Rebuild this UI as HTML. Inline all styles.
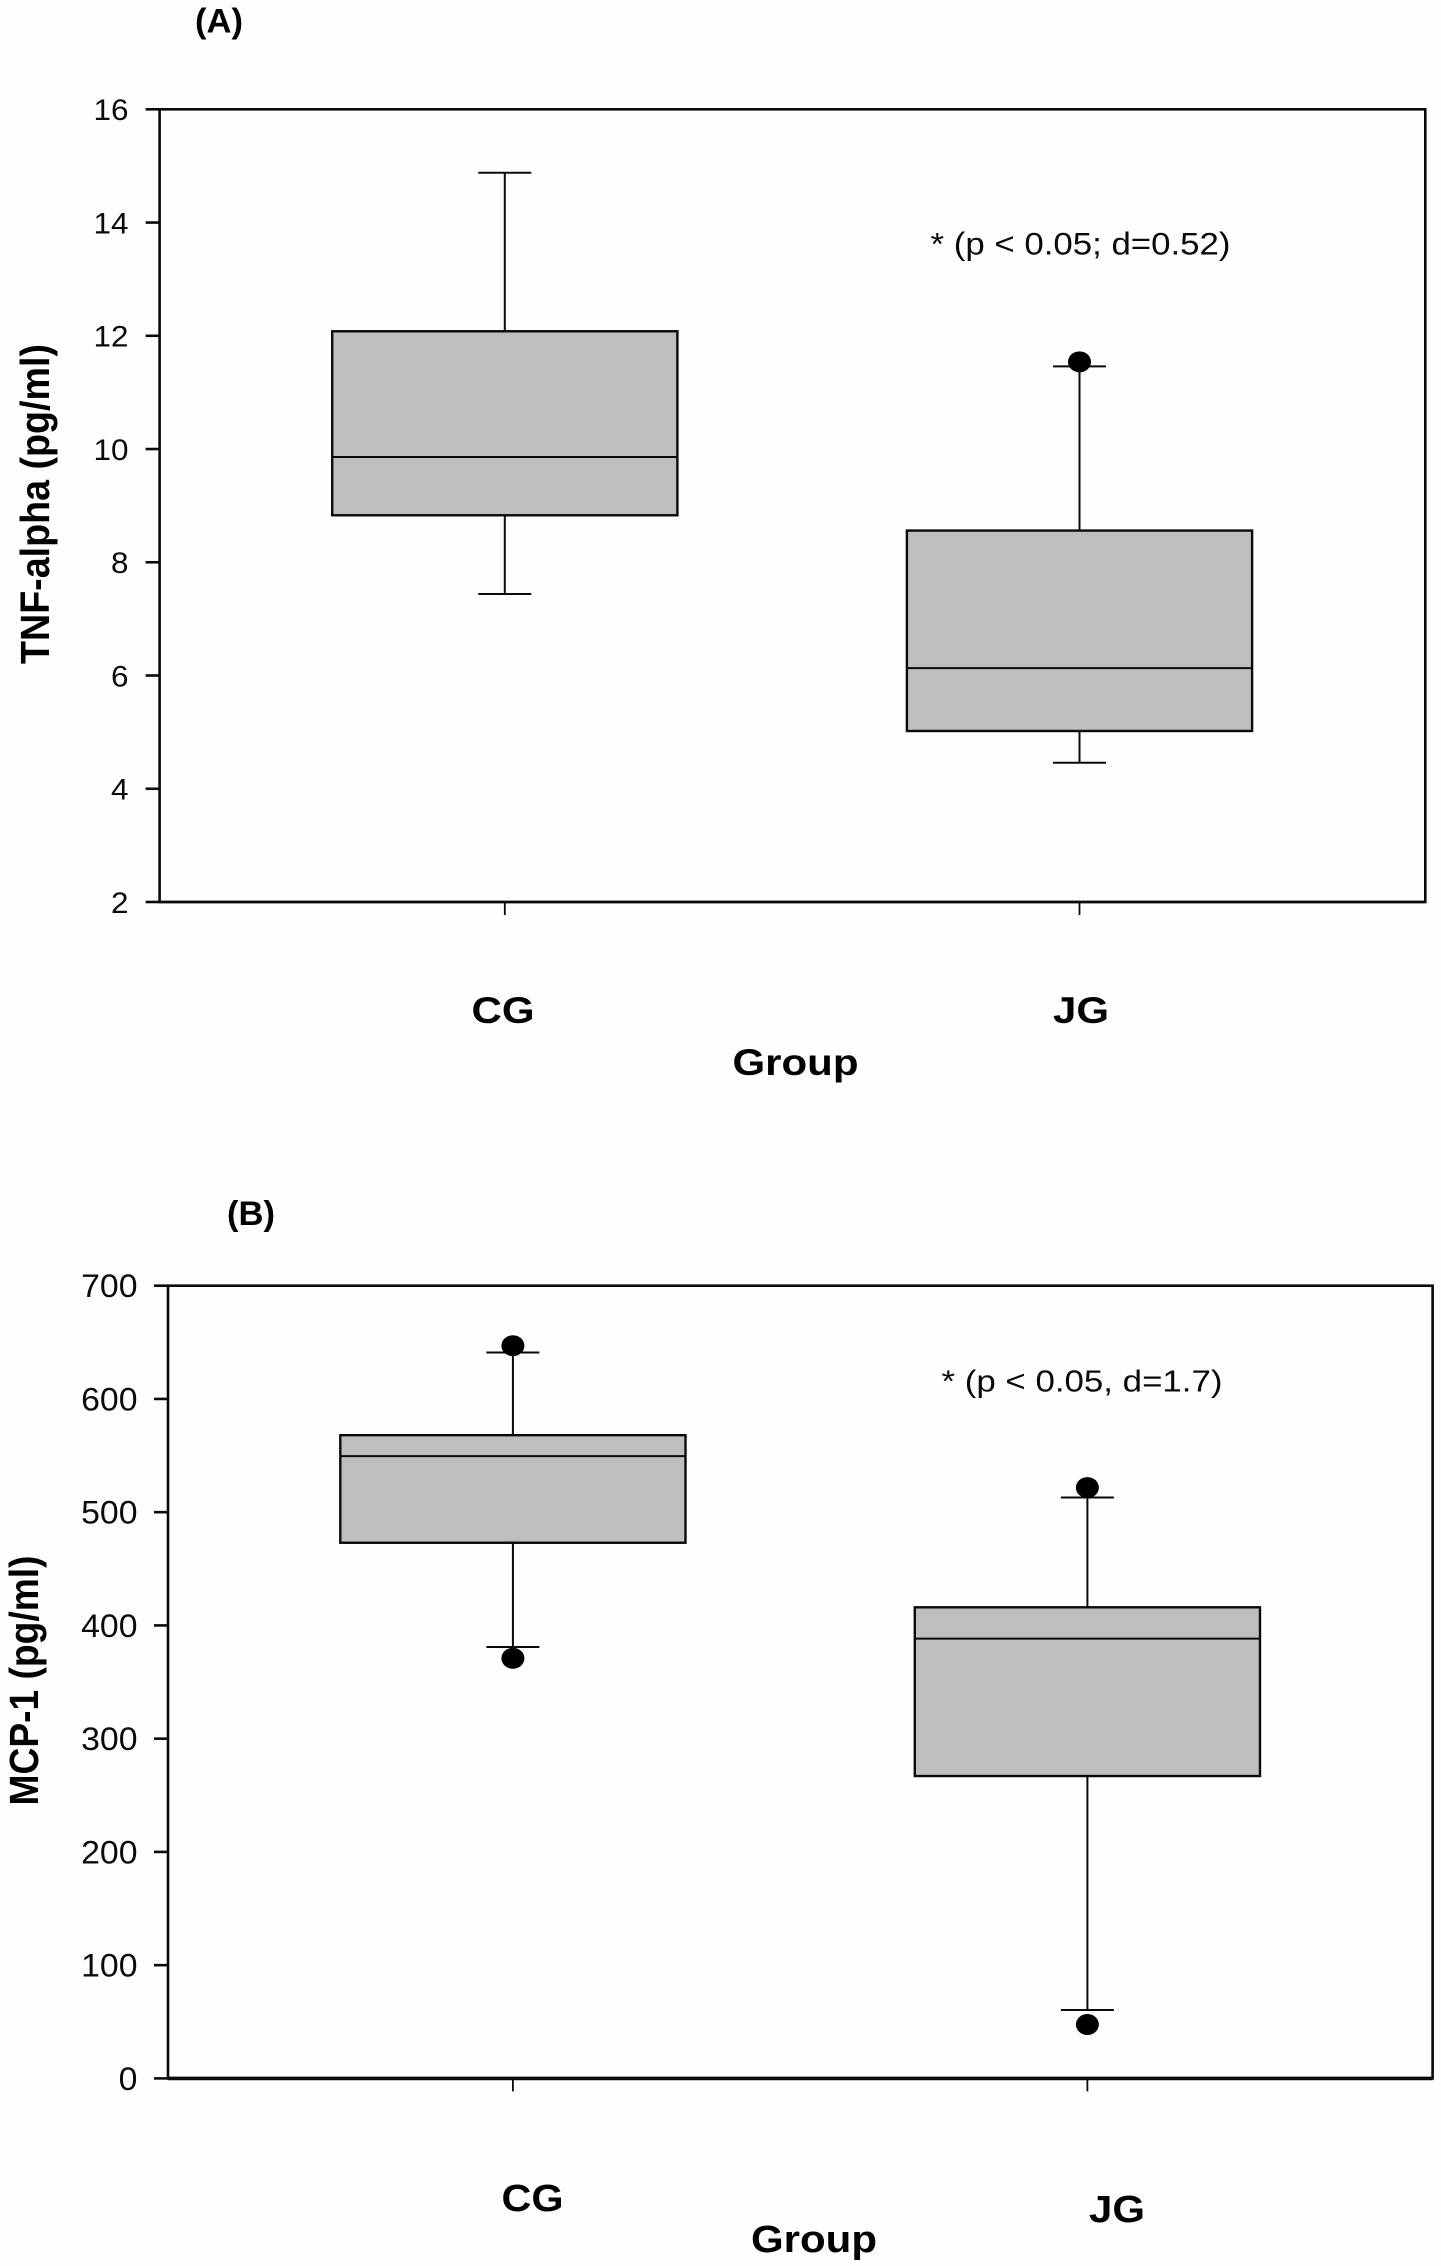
<!DOCTYPE html>
<html lang="en">
<head>
<meta charset="utf-8">
<title>TNF-alpha and MCP-1 box plots</title>
<style>
html,body{margin:0;padding:0;background:#fefefe;}
svg{display:block;}
text{font-family:"Liberation Sans",Arial,sans-serif;fill:#0a0a0a;}
.b{font-weight:bold;fill:#000;}
</style>
</head>
<body>
<svg id="chart" xmlns="http://www.w3.org/2000/svg" width="1441" height="2266" viewBox="0 0 1441 2266">
  <rect x="0" y="0" width="1441" height="2266" fill="#fefefe"/>

  <g id="panelA"></g>
  <g id="panelB"></g>

  <text class="b" x="195" y="32.5" font-size="34" textLength="48" lengthAdjust="spacingAndGlyphs">(A)</text>
  <text x="930.5" y="254.5" font-size="31.5" textLength="300" lengthAdjust="spacingAndGlyphs">* (p &lt; 0.05; d=0.52)</text>
  <text class="b" transform="translate(49,664) rotate(-90)" font-size="41" textLength="320" lengthAdjust="spacingAndGlyphs">TNF-alpha (pg/ml)</text>
  <text class="b" x="732.5" y="1075" font-size="37" textLength="126" lengthAdjust="spacingAndGlyphs">Group</text>

  <text class="b" x="227" y="1225" font-size="34" textLength="48" lengthAdjust="spacingAndGlyphs">(B)</text>
  <text x="941.5" y="1391.5" font-size="30.5" textLength="281" lengthAdjust="spacingAndGlyphs">* (p &lt; 0.05, d=1.7)</text>
  <text class="b" transform="translate(38,1805.5) rotate(-90)" font-size="41" textLength="250" lengthAdjust="spacingAndGlyphs">MCP-1 (pg/ml)</text>
  <text class="b" x="751" y="2252" font-size="38" textLength="126" lengthAdjust="spacingAndGlyphs">Group</text>
</svg>

<script>
// Panel A: TNF-alpha
const categoriesA = ["CG", "JG"];
const yTicksA = [2, 4, 6, 8, 10, 12, 14, 16];
const whiskerLowA = [7.44, 4.46];
const q1A = [8.83, 5.02];
const medianA = [9.86, 6.13];
const q3A = [12.08, 8.56];
const whiskerHighA = [14.88, 11.46];
const outliersA = [[], [11.54]];

// Panel B: MCP-1
const categoriesB = ["CG", "JG"];
const yTicksB = [0, 100, 200, 300, 400, 500, 600, 700];
const whiskerLowB = [381, 60.4];
const q1B = [473, 267];
const medianB = [549.5, 388.4];
const q3B = [568, 416];
const whiskerHighB = [641, 513];
const outliersB = [[371, 647], [47.6, 521.7]];

const SVG_NS = "http://www.w3.org/2000/svg";
const INK = "#0a0a0a";

function mk(parent, tag, attrs, text) {
  const node = document.createElementNS(SVG_NS, tag);
  for (const key in attrs) node.setAttribute(key, attrs[key]);
  if (text !== undefined) node.textContent = text;
  parent.appendChild(node);
  return node;
}

function drawPanel(groupId, layout, cats, ticks, wLow, q1, med, q3, wHigh, outs) {
  const g = document.getElementById(groupId);
  const yScale = v => layout.yBottom - (v - layout.yMin) / (layout.yMax - layout.yMin) * (layout.yBottom - layout.yTop);
  const xScale = i => layout.xCenters[i];

  const frame = mk(g, "rect", {x: layout.xLeft, y: layout.yTop, width: layout.xRight - layout.xLeft, height: layout.yBottom - layout.yTop, fill: "none", stroke: INK, "stroke-width": 2.6});
  
  

  const baseAxis = mk(g, "line", {x1: layout.xLeft, x2: layout.xRight, y1: layout.yBottom, y2: layout.yBottom, stroke: INK, "stroke-width": layout.bottomWidth});
  
  

  ticks.forEach(t => {
    const y = yScale(t);
    const tick = mk(g, "line", {x1: layout.xLeft - 14, x2: layout.xLeft, y1: y, y2: y, stroke: INK, "stroke-width": 2.6});
    
    
    const s = String(t);
    const label = mk(g, "text", {x: layout.labelRight, y: y + layout.labelDy, "text-anchor": "end", "font-size": layout.labelSize, textLength: s.length * layout.digitWidth, lengthAdjust: "spacingAndGlyphs"}, s);
    
    
  });

  cats.forEach((c, i) => {
    const x = xScale(i);
    const xTick = mk(g, "line", {x1: x, x2: x, y1: layout.yBottom, y2: layout.yBottom + 13, stroke: INK, "stroke-width": 1.8});
    
    

    const spec = layout.catLabels[i];
    const catLabel = mk(g, "text", {class: "b", x: spec.x, y: spec.y, "font-size": spec.size, textLength: spec.w, lengthAdjust: "spacingAndGlyphs"}, c);
    
    

    const whisker = mk(g, "line", {x1: x, x2: x, y1: yScale(wLow[i]), y2: yScale(wHigh[i]), stroke: INK, "stroke-width": 2});
    
    

    [wLow[i], wHigh[i]].forEach(v => {
      const cap = mk(g, "line", {x1: x - 26.5, x2: x + 26.5, y1: yScale(v), y2: yScale(v), stroke: INK, "stroke-width": 2});
      
      
    });

    const box = mk(g, "rect", {x: x - 172.6, y: yScale(q3[i]), width: 345.2, height: yScale(q1[i]) - yScale(q3[i]), fill: "#bebebe", stroke: INK, "stroke-width": 2.4});
    
    

    const median = mk(g, "line", {x1: x - 172.6, x2: x + 172.6, y1: yScale(med[i]), y2: yScale(med[i]), stroke: INK, "stroke-width": 2});
    
    

    outs[i].forEach(v => {
      const dot = mk(g, "ellipse", {cx: x, cy: yScale(v), rx: 11.5, ry: 10.5, fill: "#000"});
      
      
    });
  });
}

drawPanel("panelA", {
  xLeft: 159.6, xRight: 1425.3, yTop: 109.3, yBottom: 902, yMin: 2, yMax: 16,
  xCenters: [504.8, 1079.5], bottomWidth: 2.6,
  labelRight: 128.5, labelDy: 10.8, labelSize: 30, digitWidth: 17.5,
  catLabels: [
    {x: 471.5, y: 1023, size: 37, w: 63},
    {x: 1053, y: 1023, size: 37, w: 56}
  ]
}, categoriesA, yTicksA, whiskerLowA, q1A, medianA, q3A, whiskerHighA, outliersA);

drawPanel("panelB", {
  xLeft: 168, xRight: 1432.6, yTop: 1285.7, yBottom: 2078.4, yMin: 0, yMax: 700,
  xCenters: [512.9, 1087.4], bottomWidth: 3.6,
  labelRight: 137.5, labelDy: 11.5, labelSize: 32, digitWidth: 18.8,
  catLabels: [
    {x: 501.5, y: 2211, size: 38, w: 62},
    {x: 1089, y: 2222, size: 38, w: 56}
  ]
}, categoriesB, yTicksB, whiskerLowB, q1B, medianB, q3B, whiskerHighB, outliersB);
</script>
</body>
</html>
